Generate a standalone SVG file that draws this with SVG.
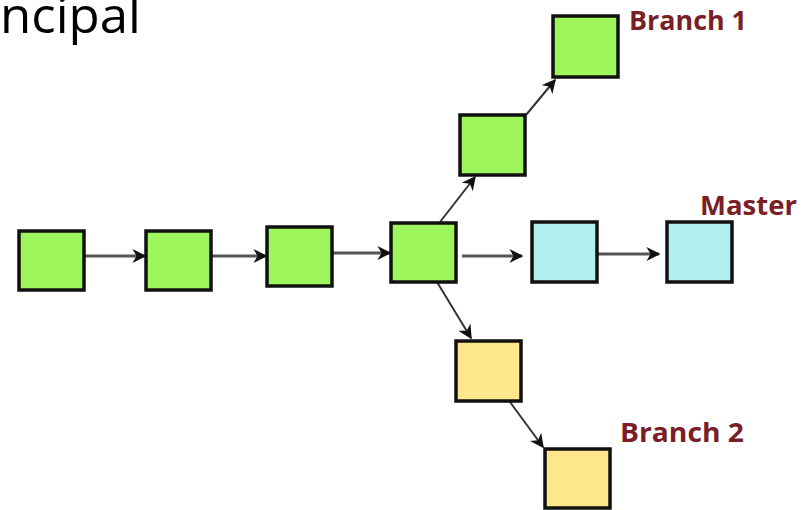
<svg xmlns="http://www.w3.org/2000/svg" width="808" height="510" viewBox="0 0 808 510">
<defs>
<style>
.n rect{stroke:#111;stroke-width:3.5}
.g{fill:#9df65b}
.c{fill:#b0f0ef}
.y{fill:#fde68c}
.lbl{font-family:"Open Sans","Liberation Sans",sans-serif;font-weight:bold;fill:#7a1e27;font-size:27px}
.e{stroke:#444;stroke-width:2.5;fill:none;marker-end:url(#ah)}
</style>
<marker id="ah" viewBox="0 0 10 10" refX="9" refY="5" markerWidth="6" markerHeight="6" markerUnits="userSpaceOnUse" orient="auto">
<path d="M0,0 L10,5 L0,10 L3,5 z" fill="#111"/>
</marker>
<marker id="ah2" viewBox="0 0 10 10" refX="9" refY="5" markerWidth="14" markerHeight="14" markerUnits="userSpaceOnUse" orient="auto">
<path d="M0,0 L10,5 L0,10 L3,5 z" fill="#111"/>
</marker>
</defs>
<rect width="808" height="510" fill="#fff"/>
<text x="0" y="33" font-family="'Open Sans','Liberation Sans',sans-serif" font-size="50" fill="#000" textLength="141" lengthAdjust="spacingAndGlyphs">ncipal</text>
<g id="connectors" fill="none">
<line x1="84" y1="256" x2="145" y2="256" stroke="#555" stroke-width="3" marker-end="url(#ah2)"/>
<line x1="211" y1="256" x2="266" y2="256" stroke="#555" stroke-width="3" marker-end="url(#ah2)"/>
<line x1="332" y1="253" x2="390" y2="253" stroke="#555" stroke-width="3" marker-end="url(#ah2)"/>
<line x1="462" y1="256" x2="522" y2="256" stroke="#555" stroke-width="3" marker-end="url(#ah2)"/>
<line x1="598" y1="254" x2="659" y2="254" stroke="#555" stroke-width="3" marker-end="url(#ah2)"/>
<line x1="440" y1="222" x2="475" y2="177" stroke="#333" stroke-width="2" marker-end="url(#ah2)"/>
<line x1="526" y1="115" x2="555" y2="80" stroke="#333" stroke-width="2" marker-end="url(#ah2)"/>
<line x1="437" y1="282" x2="471" y2="338" stroke="#333" stroke-width="2" marker-end="url(#ah2)"/>
<line x1="510" y1="402" x2="543" y2="447" stroke="#333" stroke-width="2" marker-end="url(#ah2)"/>
</g>
<g id="n1" class="n"><rect class="g" x="19" y="231" width="65" height="59"/></g>
<g id="n2" class="n"><rect class="g" x="146" y="231" width="65" height="59"/></g>
<g id="n3" class="n"><rect class="g" x="267" y="227" width="65" height="59"/></g>
<g id="n4" class="n"><rect class="g" x="391" y="223" width="65" height="59"/></g>
<g id="m1" class="n"><rect class="c" x="532" y="222" width="65" height="60"/></g>
<g id="m2" class="n"><rect class="c" x="667" y="222" width="65" height="60"/></g>
<g id="b1a" class="n"><rect class="g" x="460" y="115" width="65" height="60"/></g>
<g id="b1b" class="n"><rect class="g" x="553" y="16" width="65" height="61"/></g>
<g id="b2a" class="n"><rect class="y" x="456" y="341" width="65" height="60"/></g>
<g id="b2b" class="n"><rect class="y" x="545" y="449" width="65" height="59"/></g>
<g id="labels">
<text class="lbl" x="629" y="30" textLength="118" lengthAdjust="spacingAndGlyphs">Branch 1</text>
<text class="lbl" x="700" y="215" textLength="97" lengthAdjust="spacingAndGlyphs">Master</text>
<text class="lbl" x="620" y="442" textLength="124" lengthAdjust="spacingAndGlyphs">Branch 2</text>
</g>
</svg>
